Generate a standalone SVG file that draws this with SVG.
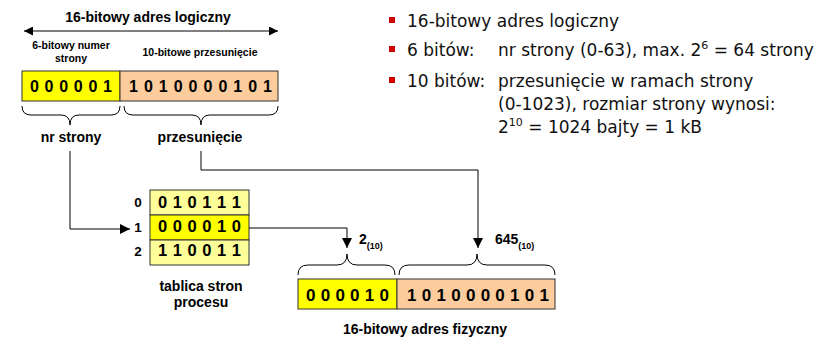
<svg xmlns="http://www.w3.org/2000/svg" width="838" height="339" viewBox="0 0 838 339">
<defs>
<marker id="ah" viewBox="0 0 10 10" refX="10" refY="5" markerWidth="10" markerHeight="10" markerUnits="userSpaceOnUse" orient="auto">
<path d="M0,0 L10,5 L0,10 Z" fill="#000"/>
</marker>
<marker id="ah2" viewBox="0 0 10 10" refX="10" refY="5" markerWidth="9" markerHeight="9" markerUnits="userSpaceOnUse" orient="auto-start-reverse">
<path d="M0,0 L10,5 L0,10 Z" fill="#000"/>
</marker>
<style>
.b{font-family:"Liberation Sans",Arial,sans-serif;font-weight:bold;fill:#000}
.r{font-family:"DejaVu Sans",Verdana,sans-serif;font-size:17px;fill:#111}
.box{stroke:#333;stroke-width:1}
.y{fill:#ffff00}
.o{fill:#fccc9c}
.ly{fill:#ffff99}
.br{fill:none;stroke:#000;stroke-width:1}
.cn{fill:none;stroke:#000;stroke-width:1}
.bul{fill:#cc0000}
</style>
</defs>

<g id="logical-header">
<text class="b" x="148" y="22" font-size="14" text-anchor="middle">16-bitowy adres logiczny</text>
<line x1="24" y1="31" x2="278" y2="31" stroke="#000" stroke-width="1.2" marker-start="url(#ah2)" marker-end="url(#ah2)"/>
<text class="b" x="71" y="49" font-size="10.5" text-anchor="middle">6-bitowy numer</text>
<text class="b" x="71" y="62" font-size="10.5" text-anchor="middle">strony</text>
<text class="b" x="200" y="56" font-size="10.5" text-anchor="middle">10-bitowe przesunięcie</text>
</g>

<g id="logical-address">
<rect class="box y" x="22" y="71" width="98" height="30"/>
<rect class="box o" x="120" y="71" width="158" height="30"/>
<text class="b" x="30" y="92" font-size="16" textLength="82" lengthAdjust="spacing">0 0 0 0 0 1</text>
<text class="b" x="129" y="92" font-size="16" textLength="143" lengthAdjust="spacing">1 0 1 0 0 0 0 1 0 1</text>
<path class="br" d="M22,106 Q22,115 31,115 L61,115 Q70,115 70,125 Q70,115 79,115 L111,115 Q120,115 120,106"/>
<path class="br" d="M124,106 Q124,115 133,115 L192,115 Q201,115 201,125 Q201,115 210,115 L269,115 Q278,115 278,106"/>
<text class="b" x="71" y="142" font-size="14" text-anchor="middle">nr strony</text>
<text class="b" x="200" y="142" font-size="14" text-anchor="middle">przesunięcie</text>
</g>

<g id="page-table">
<rect class="box ly" x="150" y="190" width="99" height="25"/>
<rect class="box y" x="150" y="215" width="99" height="25"/>
<rect class="box ly" x="150" y="240" width="99" height="25"/>
<text class="b" x="158" y="208" font-size="16.5" textLength="83" lengthAdjust="spacing">0 1 0 1 1 1</text>
<text class="b" x="158" y="232" font-size="16.5" textLength="83" lengthAdjust="spacing">0 0 0 0 1 0</text>
<text class="b" x="158" y="256" font-size="16.5" textLength="83" lengthAdjust="spacing">1 1 0 0 1 1</text>
<text class="b" x="138" y="207" font-size="13.5" text-anchor="middle">0</text>
<text class="b" x="138" y="232" font-size="13.5" text-anchor="middle">1</text>
<text class="b" x="138" y="256" font-size="13.5" text-anchor="middle">2</text>
<text class="b" x="201" y="291" font-size="14" text-anchor="middle">tablica stron</text>
<text class="b" x="201" y="307" font-size="14" text-anchor="middle">procesu</text>
</g>

<g id="physical-address">
<path class="br" d="M298,275 Q298,265 308,265 L337,265 Q347,265 347,254 Q347,265 357,265 L385,265 Q395,265 395,275"/>
<path class="br" d="M399,275 Q399,265 409,265 L467,265 Q477,265 477,254 Q477,265 487,265 L545,265 Q555,265 555,275"/>
<text class="b" x="359" y="244" font-size="14">2<tspan font-size="9" dy="5">(10)</tspan></text>
<text class="b" x="495" y="244" font-size="14">645<tspan font-size="9" dy="5">(10)</tspan></text>
<rect class="box y" x="298" y="279" width="99" height="30"/>
<rect class="box o" x="397" y="279" width="158" height="30"/>
<text class="b" x="306" y="301" font-size="17" textLength="83" lengthAdjust="spacing">0 0 0 0 1 0</text>
<text class="b" x="407" y="301" font-size="17" textLength="142" lengthAdjust="spacing">1 0 1 0 0 0 0 1 0 1</text>
<text class="b" x="425" y="334" font-size="14" text-anchor="middle">16-bitowy adres fizyczny</text>
</g>

<g id="connectors">
<polyline class="cn" points="70,151 70,229 130,229" marker-end="url(#ah)"/>
<polyline class="cn" points="201,151 201,170 478,170 478,248" marker-end="url(#ah)"/>
<polyline class="cn" points="249,228 347,228 347,248" marker-end="url(#ah)"/>
</g>

<g id="notes">
<rect class="bul" x="389" y="17" width="6" height="6"/>
<rect class="bul" x="389" y="46" width="6" height="6"/>
<rect class="bul" x="389" y="77" width="6" height="6"/>
<text class="r" x="407" y="27">16-bitowy adres logiczny</text>
<text class="r" x="407" y="56">6 bitów:</text>
<text class="r" x="498" y="56">nr strony (0-63), max. 2<tspan font-size="11" dy="-7">6</tspan><tspan dy="7"> = 64 strony</tspan></text>
<text class="r" x="407" y="87">10 bitów:</text>
<text class="r" x="498" y="87">przesunięcie w ramach strony</text>
<text class="r" x="498" y="110">(0-1023), rozmiar strony wynosi:</text>
<text class="r" x="498" y="133">2<tspan font-size="11" dy="-7">10</tspan><tspan dy="7"> = 1024 bajty = 1 kB</tspan></text>
</g>
</svg>
